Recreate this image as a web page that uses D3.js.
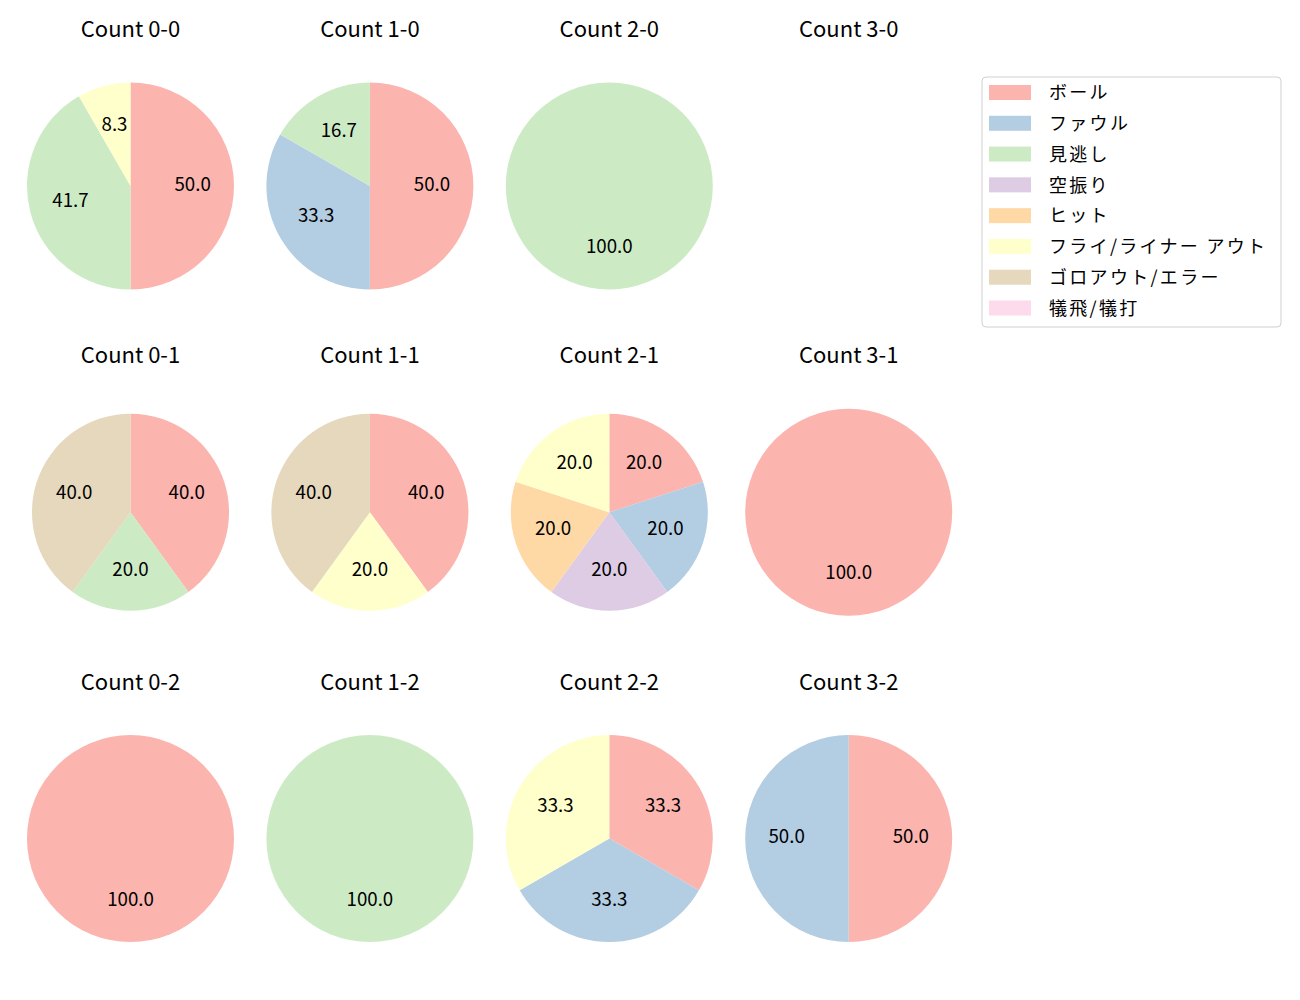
<!DOCTYPE html>
<html>
<head>
<meta charset="utf-8">
<script src="https://cdn.jsdelivr.net/npm/d3@7"></script>
<style>
  body { margin: 0; background: #fff; }
  svg text { font-family: "Noto Sans CJK JP", "Noto Sans", sans-serif; fill: #000; }
</style>
</head>
<body>
<div id="chart"></div>
<script>
  "use strict";

  // pitch outcome categories (legend order)
  var categories = ["ボール", "ファウル", "見逃し", "空振り", "ヒット",
    "フライ/ライナー アウト", "ゴロアウト/エラー", "犠飛/犠打"];
  var colors = ["#fbb4ae", "#b3cde3", "#ccebc5", "#decbe4", "#fed9a6",
    "#ffffcc", "#e5d8bd", "#fddaec"];

  // share (%) per category for each count, same order as categories
  var count00 = [50.0, 0, 41.7, 0, 0, 8.3, 0, 0];
  var count10 = [50.0, 33.3, 16.7, 0, 0, 0, 0, 0];
  var count20 = [0, 0, 100.0, 0, 0, 0, 0, 0];
  var count30 = [0, 0, 0, 0, 0, 0, 0, 0];
  var count01 = [40.0, 0, 20.0, 0, 0, 0, 40.0, 0];
  var count11 = [40.0, 0, 0, 0, 0, 20.0, 40.0, 0];
  var count21 = [20.0, 20.0, 0, 20.0, 20.0, 20.0, 0, 0];
  var count31 = [100.0, 0, 0, 0, 0, 0, 0, 0];
  var count02 = [100.0, 0, 0, 0, 0, 0, 0, 0];
  var count12 = [0, 0, 100.0, 0, 0, 0, 0, 0];
  var count22 = [33.3, 33.3, 0, 0, 0, 33.3, 0, 0];
  var count32 = [50.0, 50.0, 0, 0, 0, 0, 0, 0];

  var balls = [0, 1, 2, 3];
  var strikes = [0, 1, 2];

  var panels = [
    {b: 0, s: 0, values: count00}, {b: 1, s: 0, values: count10},
    {b: 2, s: 0, values: count20}, {b: 3, s: 0, values: count30},
    {b: 0, s: 1, values: count01}, {b: 1, s: 1, values: count11},
    {b: 2, s: 1, values: count21}, {b: 3, s: 1, values: count31},
    {b: 0, s: 2, values: count02}, {b: 1, s: 2, values: count12},
    {b: 2, s: 2, values: count22}, {b: 3, s: 2, values: count32}
  ];

  var width = 1300, height = 1000;
  var baseRadius = 103.5;
  // a few panels were drawn slightly smaller in the original
  var shrunk = {"0-1": 0.952, "1-1": 0.952, "2-1": 0.952};

  var x = d3.scalePoint().domain(balls).range([130.5, 848.7]);
  var y = d3.scalePoint().domain(strikes).range([186, 838.6]);

  var svg = d3.select("#chart").append("svg")
    .attr("width", width).attr("height", height);

  var pie = d3.pie().sort(null).value(function (d) { return d.value; });

  panels.forEach(function (p) {
    var key = p.b + "-" + p.s;
    var r = baseRadius * (shrunk[key] || 1);
    var g = svg.append("g")
      .attr("transform", "translate(" + x(p.b) + "," + y(p.s) + ")");

    g.append("text")
      .attr("x", 0).attr("y", -149)
      .attr("text-anchor", "middle")
      .style("font-size", "22px")
      .text("Count " + key);

    var rows = p.values.map(function (v, i) { return {value: v, cat: i}; })
      .filter(function (d) { return d.value > 0; });
    if (rows.length === 0) return;

    var arcs = pie(rows);
    var arc = d3.arc().innerRadius(0).outerRadius(r);
    var labelArc = d3.arc().innerRadius(r * 0.6).outerRadius(r * 0.6);

    g.selectAll("path").data(arcs).enter().append("path")
      .attr("d", arc)
      .attr("fill", function (d) { return colors[d.data.cat]; });

    g.selectAll("text.pct").data(arcs).enter().append("text")
      .attr("class", "pct")
      .attr("transform", function (d) { return "translate(" + labelArc.centroid(d) + ")"; })
      .attr("dy", "0.26em")
      .attr("text-anchor", "middle")
      .style("font-size", "18.7px")
      .text(function (d) { return d.data.value.toFixed(1); });
  });

  // legend
  var legend = svg.append("g").attr("transform", "translate(982,77)");
  legend.append("rect")
    .attr("x", 0).attr("y", 0).attr("width", 299).attr("height", 250)
    .attr("rx", 4).attr("ry", 4)
    .attr("fill", "#fff").attr("stroke", "#d0d0d0").attr("stroke-width", 1);

  var ly = d3.scaleLinear().domain([0, categories.length - 1]).range([15.5, 231]);
  var items = legend.selectAll("g.item").data(categories).enter().append("g")
    .attr("class", "item")
    .attr("transform", function (d, i) { return "translate(0," + ly(i) + ")"; });
  items.append("rect")
    .attr("x", 7).attr("y", -7.5).attr("width", 42).attr("height", 15)
    .attr("fill", function (d, i) { return colors[i]; });
  items.append("text")
    .attr("x", 67).attr("y", 0)
    .attr("dy", "0.38em")
    .style("font-size", "18px")
    .style("letter-spacing", "2.3px")
    .text(function (d) { return d; });
</script>
</body>
</html>
